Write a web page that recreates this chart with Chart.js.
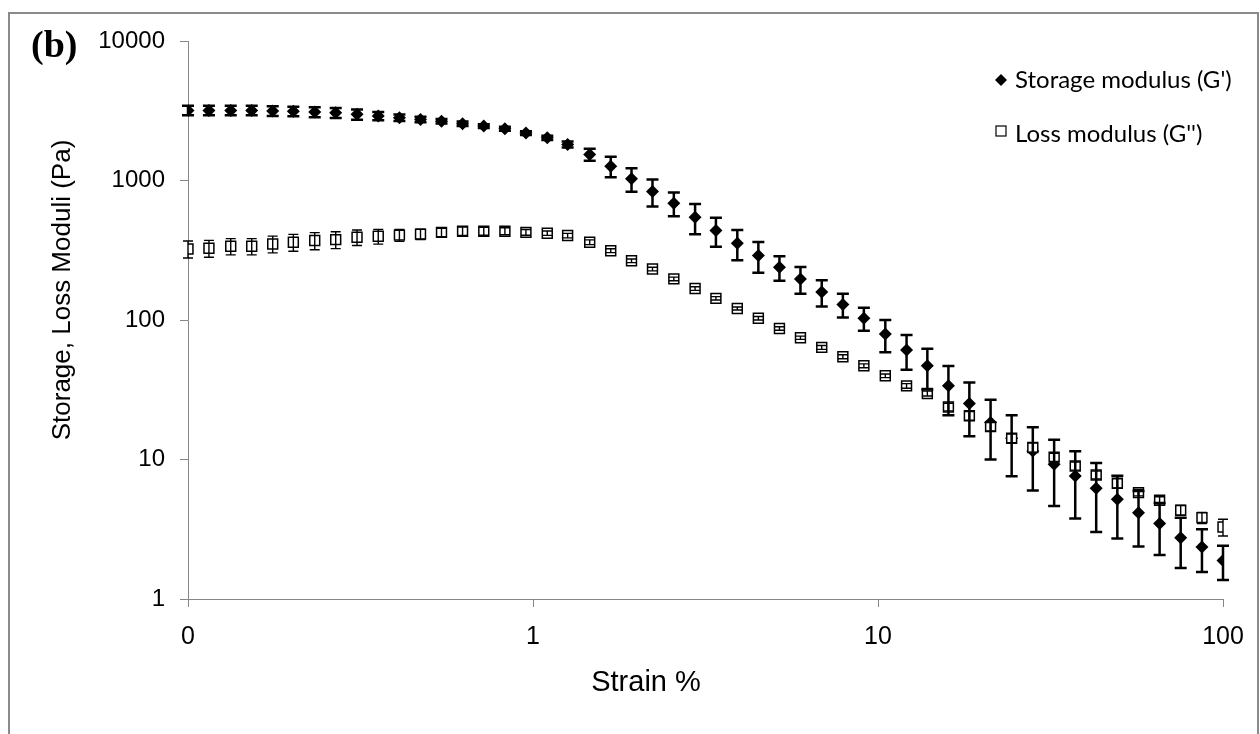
<!DOCTYPE html>
<html>
<head>
<meta charset="utf-8">
<script src="https://cdn.jsdelivr.net/npm/chart.js@4.4.1/dist/chart.umd.min.js"></script>
<style>
  html, body { margin: 0; padding: 0; background: #fff; overflow: hidden; }
  #frame { position: absolute; left: 8px; top: 12px; width: 1247px; height: 800px; border: 2px solid #8a8a8a; }
  #wrap { position: absolute; left: 0; top: 0; width: 1260px; height: 734px; }
</style>
</head>
<body>
<div id="frame"></div>
<div id="wrap"><canvas id="grafico" width="1260" height="734"></canvas></div>
<script>
// ==========================
// DADOS
// ==========================
const strain = [0.1, 0.115, 0.133, 0.153, 0.176, 0.202, 0.233, 0.268, 0.309, 0.356,
  0.41, 0.472, 0.543, 0.625, 0.72, 0.829, 0.954, 1.1, 1.26, 1.46,
  1.68, 1.93, 2.22, 2.56, 2.95, 3.39, 3.91, 4.5, 5.18, 5.96,
  6.87, 7.91, 9.1, 10.5, 12.1, 13.9, 16, 18.4, 21.2, 24.4,
  28.1, 32.4, 37.3, 42.9, 49.4, 56.9, 65.5, 75.4, 86.9, 100];

const storageG = [3180, 3180, 3180, 3180, 3150, 3135, 3095, 3060, 2980, 2900,
  2820, 2740, 2664, 2553, 2454, 2350, 2186, 2025, 1813, 1537,
  1267, 1028, 834, 687, 545, 438, 355, 290, 239, 197,
  159, 129, 103, 79.4, 61, 47, 33.8, 25.2, 18.4, 14.2,
  11.5, 9.25, 7.62, 6.22, 5.19, 4.16, 3.47, 2.75, 2.36, 1.89];

const storageErr = [250, 250, 250, 250, 250, 250, 250, 250, 250, 200,
  150, 120, 100, 90, 80, 75, 70, 70, 90, 150,
  210, 196, 183, 133, 133, 103, 87, 72, 48, 43,
  34, 25, 19.4, 20.6, 17, 15.3, 13, 10.5, 8.4, 6.6,
  5.5, 4.6, 3.85, 3.2, 2.47, 1.78, 1.4, 1.08, 0.8, 0.52];

const lossG = [323, 327, 338, 338, 351, 361, 371, 377, 392, 398,
  406, 413, 425, 433, 433, 433, 425, 419, 403, 361,
  314, 266, 232, 197, 168, 143, 121, 103, 86.9, 74.6,
  63.6, 54.5, 47, 39.8, 33.7, 29.7, 23.8, 20.6, 17.2, 14.2,
  12.2, 10.4, 8.99, 7.75, 6.76, 5.79, 5.11, 4.33, 3.83, 3.28];

const lossErr = [45, 45, 45, 45, 48, 50, 52, 52, 50, 48,
  40, 35, 30, 30, 28, 25, 20, 15, 15, 14,
  10, 8, 7, 6, 5, 4, 3, 3, 2.5, 2,
  2, 1.8, 1.5, 1.2, 1.3, 1.2, 1.5, 1.5, 1.2, 1,
  0.9, 0.7, 0.6, 0.5, 0.5, 0.3, 0.3, 0.35, 0.35, 0.45];

const xTicks = [0.1, 1, 10, 100];
const xTickLabels = ["0", "1", "10", "100"];
const yTicks = [1, 10, 100, 1000, 10000];
const yTickLabels = ["1", "10", "100", "1000", "10000"];

const labelStorage = "Storage modulus (G')";
const labelLoss = "Loss modulus (G'')";
const xTitle = "Strain %";
const yTitle = "Storage, Loss Moduli (Pa)";
const panelTag = "(b)";

const AXIS = '#878787';

// ==========================
// BARRAS DE ERRO
// ==========================
const errorBars = {
  id: 'errorBars',
  afterDatasetsDraw(chart) {
    const { ctx, scales: { x, y } } = chart;
    ctx.save();
    chart.data.datasets.forEach((ds) => {
      ctx.strokeStyle = '#000';
      ctx.lineWidth = ds.errWidth;
      const cap = ds.errCap;
      ds.data.forEach((p, i) => {
        const e = ds.errors[i];
        const px = x.getPixelForValue(p.x);
        const top = y.getPixelForValue(p.y + e);
        const bot = y.getPixelForValue(Math.max(p.y - e, 1e-3));
        ctx.beginPath();
        ctx.moveTo(px, top); ctx.lineTo(px, bot);
        ctx.moveTo(px - cap, top); ctx.lineTo(px + cap, top);
        ctx.moveTo(px - cap, bot); ctx.lineTo(px + cap, bot);
        ctx.stroke();
      });
    });
    ctx.restore();
  }
};

// ==========================
// TEXTOS + LEGENDA
// ==========================
const extras = {
  id: 'extras',
  afterDraw(chart) {
    const ctx = chart.ctx;
    ctx.save();
    ctx.fillStyle = '#000';

    // (b)
    ctx.font = 'bold 38px "Liberation Serif"';
    ctx.textAlign = 'left';
    ctx.textBaseline = 'alphabetic';
    ctx.fillText(panelTag, 31, 57);

    // título eixo x
    ctx.font = '29px "Liberation Sans"';
    ctx.textAlign = 'center';
    ctx.fillText(xTitle, 646, 691);

    // título eixo y
    ctx.save();
    ctx.translate(70, 290);
    ctx.rotate(-Math.PI / 2);
    ctx.font = '26px "Liberation Sans"';
    ctx.fillText(yTitle, 0, 0);
    ctx.restore();

    // legenda
    ctx.font = '24px Lato';
    ctx.textAlign = 'left';
    ctx.beginPath();
    ctx.moveTo(995, 80); ctx.lineTo(1001, 74); ctx.lineTo(1007, 80); ctx.lineTo(1001, 86);
    ctx.closePath();
    ctx.fill();
    ctx.fillText(labelStorage, 1015, 88);

    ctx.lineWidth = 1.2;
    ctx.strokeStyle = '#000';
    ctx.strokeRect(996, 126, 10, 10);
    ctx.fillText(labelLoss, 1015, 142);
    ctx.restore();
  }
};

// ==========================
// GRÁFICO
// ==========================
function pontos(ys) {
  return strain.map((x, i) => ({ x: x, y: ys[i] }));
}

window.onload = () => {
  new Chart(document.getElementById('grafico'), {
    type: 'scatter',
    data: {
      datasets: [
        {
          label: labelLoss,
          data: pontos(lossG),
          errors: lossErr, errWidth: 1.4, errCap: 5,
          pointStyle: 'rect', pointRadius: 7, borderWidth: 1.5,
          borderColor: '#000', backgroundColor: '#fff', order: 0
        },
        {
          label: labelStorage,
          data: pontos(storageG),
          errors: storageErr, errWidth: 2.5, errCap: 6,
          pointStyle: 'rectRot', pointRadius: 6.5, borderWidth: 0,
          borderColor: '#000', backgroundColor: '#000', order: 1
        }
      ]
    },
    options: {
      responsive: false,
      animation: false,
      devicePixelRatio: 1,
      layout: { padding: { left: 0, right: 37, top: 41, bottom: 0 } },
      plugins: { legend: { display: false }, tooltip: { enabled: false } },
      scales: {
        x: {
          type: 'logarithmic', min: 0.1, max: 100,
          afterBuildTicks: (s) => { s.ticks = xTicks.map(v => ({ value: v })); },
          afterFit: (s) => { s.height = 135; },
          ticks: {
            autoSkip: false, maxRotation: 0, padding: 15, color: '#000',
            font: { family: '"Liberation Sans"', size: 25 },
            callback: (v, i) => xTickLabels[i]
          },
          grid: { drawOnChartArea: false, drawTicks: true, tickLength: 8, color: AXIS },
          border: { color: AXIS, width: 1 }
        },
        y: {
          type: 'logarithmic', min: 1, max: 10000,
          afterBuildTicks: (s) => { s.ticks = yTicks.map(v => ({ value: v })); },
          afterFit: (s) => { s.width = 188; },
          ticks: {
            autoSkip: false, padding: 15, color: '#000',
            font: { family: '"Liberation Sans"', size: 24 },
            callback: (v, i) => yTickLabels[i]
          },
          grid: { drawOnChartArea: false, drawTicks: true, tickLength: 8, color: AXIS },
          border: { color: AXIS, width: 1 }
        }
      }
    },
    plugins: [errorBars, extras]
  });
};
</script>
</body>
</html>
